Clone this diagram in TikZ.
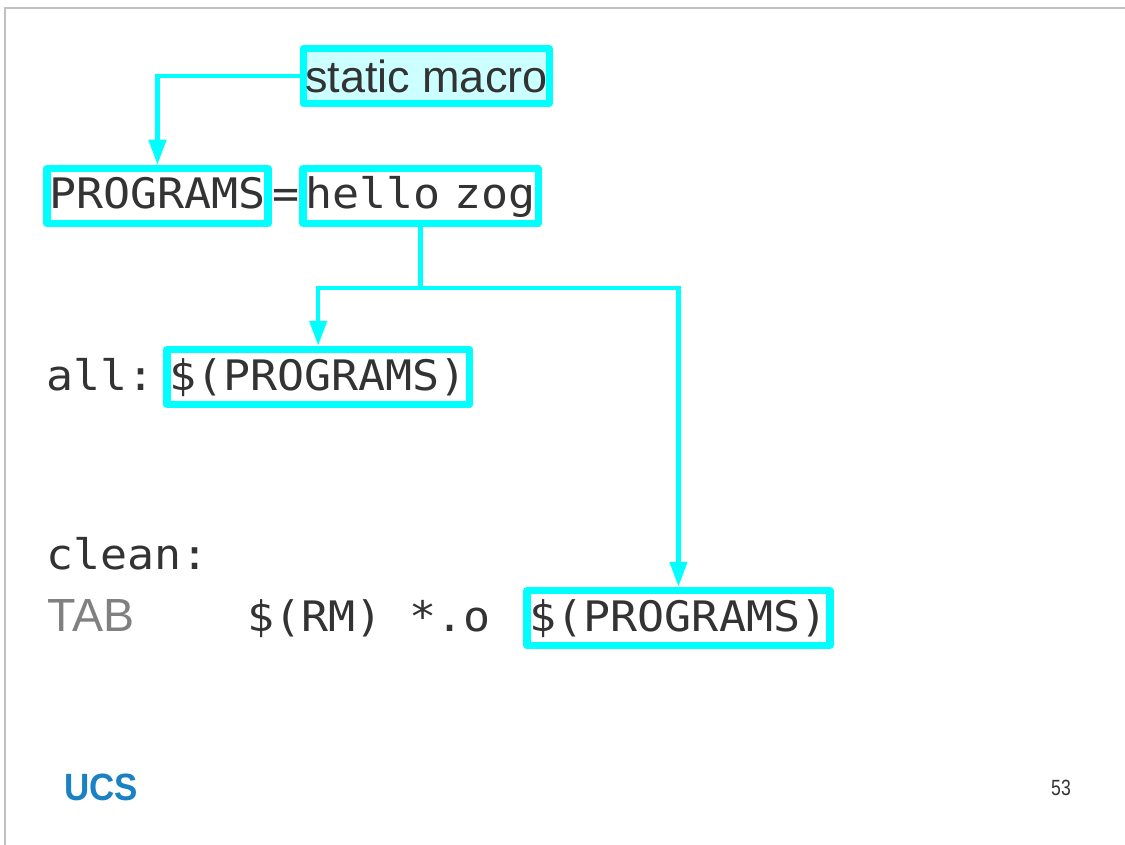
\documentclass[tikz,border=0pt]{standalone}
\usepackage{fontspec}
\setmainfont{Liberation Sans}
\newfontfamily\codefont[FakeStretch=1.07]{DejaVu Sans Mono}
\newfontfamily\narrowfont[FakeStretch=0.8]{Liberation Sans}
\newfontfamily\logofont[FakeStretch=0.92]{Liberation Sans}
\usetikzlibrary{arrows.meta, positioning}
\definecolor{ink}{HTML}{333333}
\definecolor{hilite}{HTML}{00FFFF}
\definecolor{pale}{HTML}{CCFFFF}
\definecolor{frame}{HTML}{C0C0C0}
\definecolor{ucsblue}{HTML}{1A82C4}
\tikzstyle{code} = [text=ink, font=\codefont\fontsize{42}{46}\selectfont, inner xsep=2.5pt, inner ysep=0pt, text height=40.5pt, text depth=14.5pt]
\tikzstyle{hibox} = [code, draw=hilite, line width=7.5pt, line join=round, fill=white]
\tikzstyle{plain} = [text=ink, font=\fontsize{45}{48}\selectfont, inner xsep=2pt, inner ysep=0pt, text height=44.5pt, text depth=10.5pt]
\tikzstyle{link} = [draw=hilite, line width=4.5pt]
\newcommand{\mkvar}[1]{\$(#1)}

\begin{document}
\begin{tikzpicture}[x=1pt, y=-1pt, >={Triangle[length=25pt, width=17pt]}]
    \useasboundingbox (0,0) rectangle (1125,845);
    \draw[frame, line width=1.5pt] (5,845) -- (5,8) -- (1125,8);
    % note
    \node[plain, draw=hilite, line width=7pt, line join=round, fill=pale, anchor=base west] (macro) at (299.5,93) {static macro};
    % PROGRAMS = hello zog
    \node[hibox, anchor=base west] (prog) at (43,209) {PROGRAMS};
    \node[code, inner xsep=0pt, right=0pt of prog] (eq) {=};
    \node[hibox, right=0pt of eq] (val) {hello\ \kern-13.4pt zog};
    % all:
    \node[code, anchor=base west] (all) at (43.5,390) {all:};
    \node[hibox, right=6pt of all] (ref) {\mkvar{PROGRAMS}};
    % clean:
    \node[code, anchor=base west] (clean) at (43.5,569) {clean:};
    \node[plain, text=gray, font=\fontsize{46.5}{48}\selectfont, anchor=base west] (tab) at (45,631) {TAB};
    \node[code, anchor=base west] (rm) at (244.5,631) {\mkvar{RM} *.o};
    \node[hibox, right=30pt of rm] (ref2) {\mkvar{PROGRAMS}};
    % footer
    \node[text=ucsblue, font=\logofont\bfseries\fontsize{38}{38}\selectfont, inner sep=0pt, anchor=base west] (logo) at (64,800) {UCS};
    \node[text=ink, font=\narrowfont\fontsize{22}{22}\selectfont, inner sep=0pt, anchor=base east] (page) at (1071,795) {53};
    \coordinate (fork) at (val.south |- 0,288);
    \draw[link, ->] (macro) -| (prog);
    \draw[link] (val) -- (fork);
    \draw[link, ->] (fork) -| (ref);
    \draw[link, ->] (fork) -| (ref2);
\end{tikzpicture}
\end{document}
